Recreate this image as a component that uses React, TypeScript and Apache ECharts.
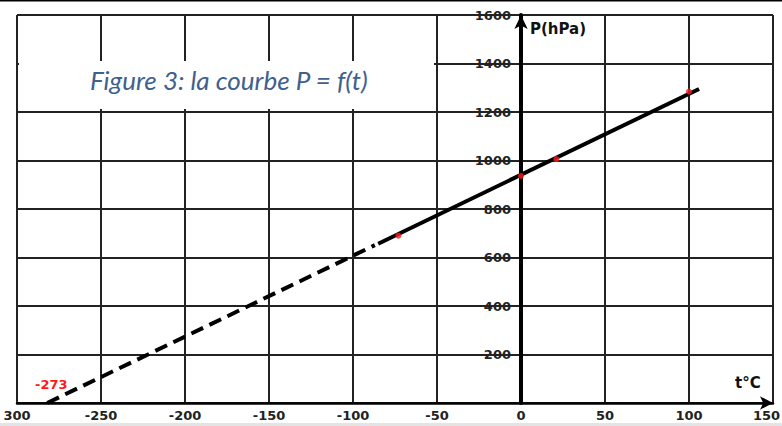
import React, { useEffect, useRef } from "react";
import * as echarts from "echarts";

// Axis ticks and labels (as printed on the figure)
const xTickValues = [-300, -250, -200, -150, -100, -50, 0, 50, 100, 150];
const xTickLabels = ["300", "-250", "-200", "-150", "-100", "-50", "0", "50", "100", "150"];
const yTickValues = [0, 200, 400, 600, 800, 1000, 1200, 1400, 1600];
const yTickLabels = ["", "200", "400", "600", "800", "1000", "1200", "1400", "1600"];

// Extrapolated (dashed) part of P = f(t)
const dashedT = [-282, -87];
const dashedP = [0, 651];
// Measured (solid) part
const solidT = [-85, 106];
const solidP = [657, 1295];
// Red measurement points
const pointsT = [-73, 0, 21, 100];
const pointsP = [690, 936, 1006, 1284];

const titleText = "Figure 3: la courbe P = f(t)";
const yName = "P(hPa)";
const xName = "t°C";
const absZeroLabel = "-273";

const zip = (a: number[], b: number[]) => a.map((v, i) => [v, b[i]]);

const GRID_LEFT = 17;
const GRID_RIGHT = 9;
const WIDTH = 782;
const X_MIN = -300;
const X_MAX = 150;

export default function App() {
  const ref = useRef<HTMLDivElement>(null);
  useEffect(() => {
    if (!ref.current) return;
    const chart = echarts.init(ref.current, null, { renderer: "svg" });
    const gridW = WIDTH - GRID_LEFT - GRID_RIGHT;
    const zeroOffset = ((0 - X_MIN) / (X_MAX - X_MIN)) * gridW;
    const labelFont = {
      fontFamily: "DejaVu Sans",
      fontWeight: "bold" as const,
      fontSize: 13,
      color: "#222",
    };
    chart.setOption({
      animation: false,
      backgroundColor: "#fff",
      grid: {
        left: GRID_LEFT,
        right: GRID_RIGHT,
        top: 15,
        bottom: 23,
        containLabel: false,
        outerBoundsMode: "none",
      },
      xAxis: {
        type: "value",
        min: X_MIN,
        max: X_MAX,
        interval: 50,
        axisLine: {
          show: true,
          onZero: true,
          symbol: ["none", "arrow"],
          symbolSize: [10, 13],
          lineStyle: { color: "#000", width: 2.5 },
        },
        axisTick: { show: false },
        axisLabel: {
          ...labelFont,
          margin: 6,
          formatter: (v: number) => {
            const i = xTickValues.indexOf(v);
            const s = i >= 0 ? xTickLabels[i] : String(v);
            return v === X_MAX ? `{last|${s}}` : s;
          },
          rich: {
            last: { ...labelFont, padding: [0, 13, 0, 0] },
          },
        },
        splitLine: { show: true, lineStyle: { color: "#222", width: 2 } },
      },
      yAxis: {
        type: "value",
        min: 0,
        max: 1600,
        interval: 200,
        offset: -zeroOffset,
        axisLine: {
          show: true,
          onZero: false,
          symbol: ["none", "arrow"],
          symbolSize: [10, 14],
          lineStyle: { color: "#000", width: 4 },
        },
        axisTick: { show: false },
        axisLabel: {
          ...labelFont,
          margin: 10,
          formatter: (v: number) => {
            const i = yTickValues.indexOf(v);
            return i >= 0 ? yTickLabels[i] : String(v);
          },
        },
        splitLine: { show: true, lineStyle: { color: "#222", width: 2 } },
      },
      series: [
        {
          type: "line",
          data: zip(dashedT, dashedP),
          symbol: "none",
          lineStyle: { color: "#000", width: 4, type: [13, 7], cap: "butt" },
          z: 5,
        },
        {
          type: "line",
          data: zip(solidT, solidP),
          symbol: "none",
          lineStyle: { color: "#000", width: 4 },
          z: 5,
        },
        {
          type: "scatter",
          data: zip(pointsT, pointsP),
          symbol: "circle",
          symbolSize: 6,
          itemStyle: { color: "#ff1a1a" },
          z: 6,
        },
      ],
      graphic: [
        { type: "rect", shape: { x: 0, y: 0, width: 782, height: 1.5 }, style: { fill: "#000" }, z: 20 },
        { type: "rect", shape: { x: 0, y: 423, width: 782, height: 3 }, style: { fill: "#e4e4e4" }, z: 20 },
        { type: "rect", shape: { x: 19, y: 61, width: 415, height: 48 }, style: { fill: "#fff" }, z: 20 },
        {
          type: "text",
          x: 90,
          y: 80,
          z: 21,
          style: {
            text: titleText,
            fill: "#40608e",
            font: "italic 26px Lato",
            textVerticalAlign: "middle",
          },
        },
        {
          type: "text",
          x: 530,
          y: 29,
          z: 21,
          style: {
            text: yName,
            fill: "#111",
            font: "bold 15px 'DejaVu Sans'",
            textVerticalAlign: "middle",
          },
        },
        {
          type: "text",
          x: 735,
          y: 383,
          z: 21,
          style: {
            text: xName,
            fill: "#111",
            font: "bold 15px 'DejaVu Sans'",
            textVerticalAlign: "middle",
          },
        },
        {
          type: "text",
          x: 35,
          y: 384,
          z: 21,
          style: {
            text: absZeroLabel,
            fill: "#ff1a1a",
            font: "bold 13px 'DejaVu Sans'",
            textVerticalAlign: "middle",
          },
        },
      ],
    });
    return () => chart.dispose();
  }, []);
  return (
    <div
      ref={ref}
      style={{ position: "fixed", left: 0, top: 0, width: 782, height: 426, background: "#fff" }}
    />
  );
}
